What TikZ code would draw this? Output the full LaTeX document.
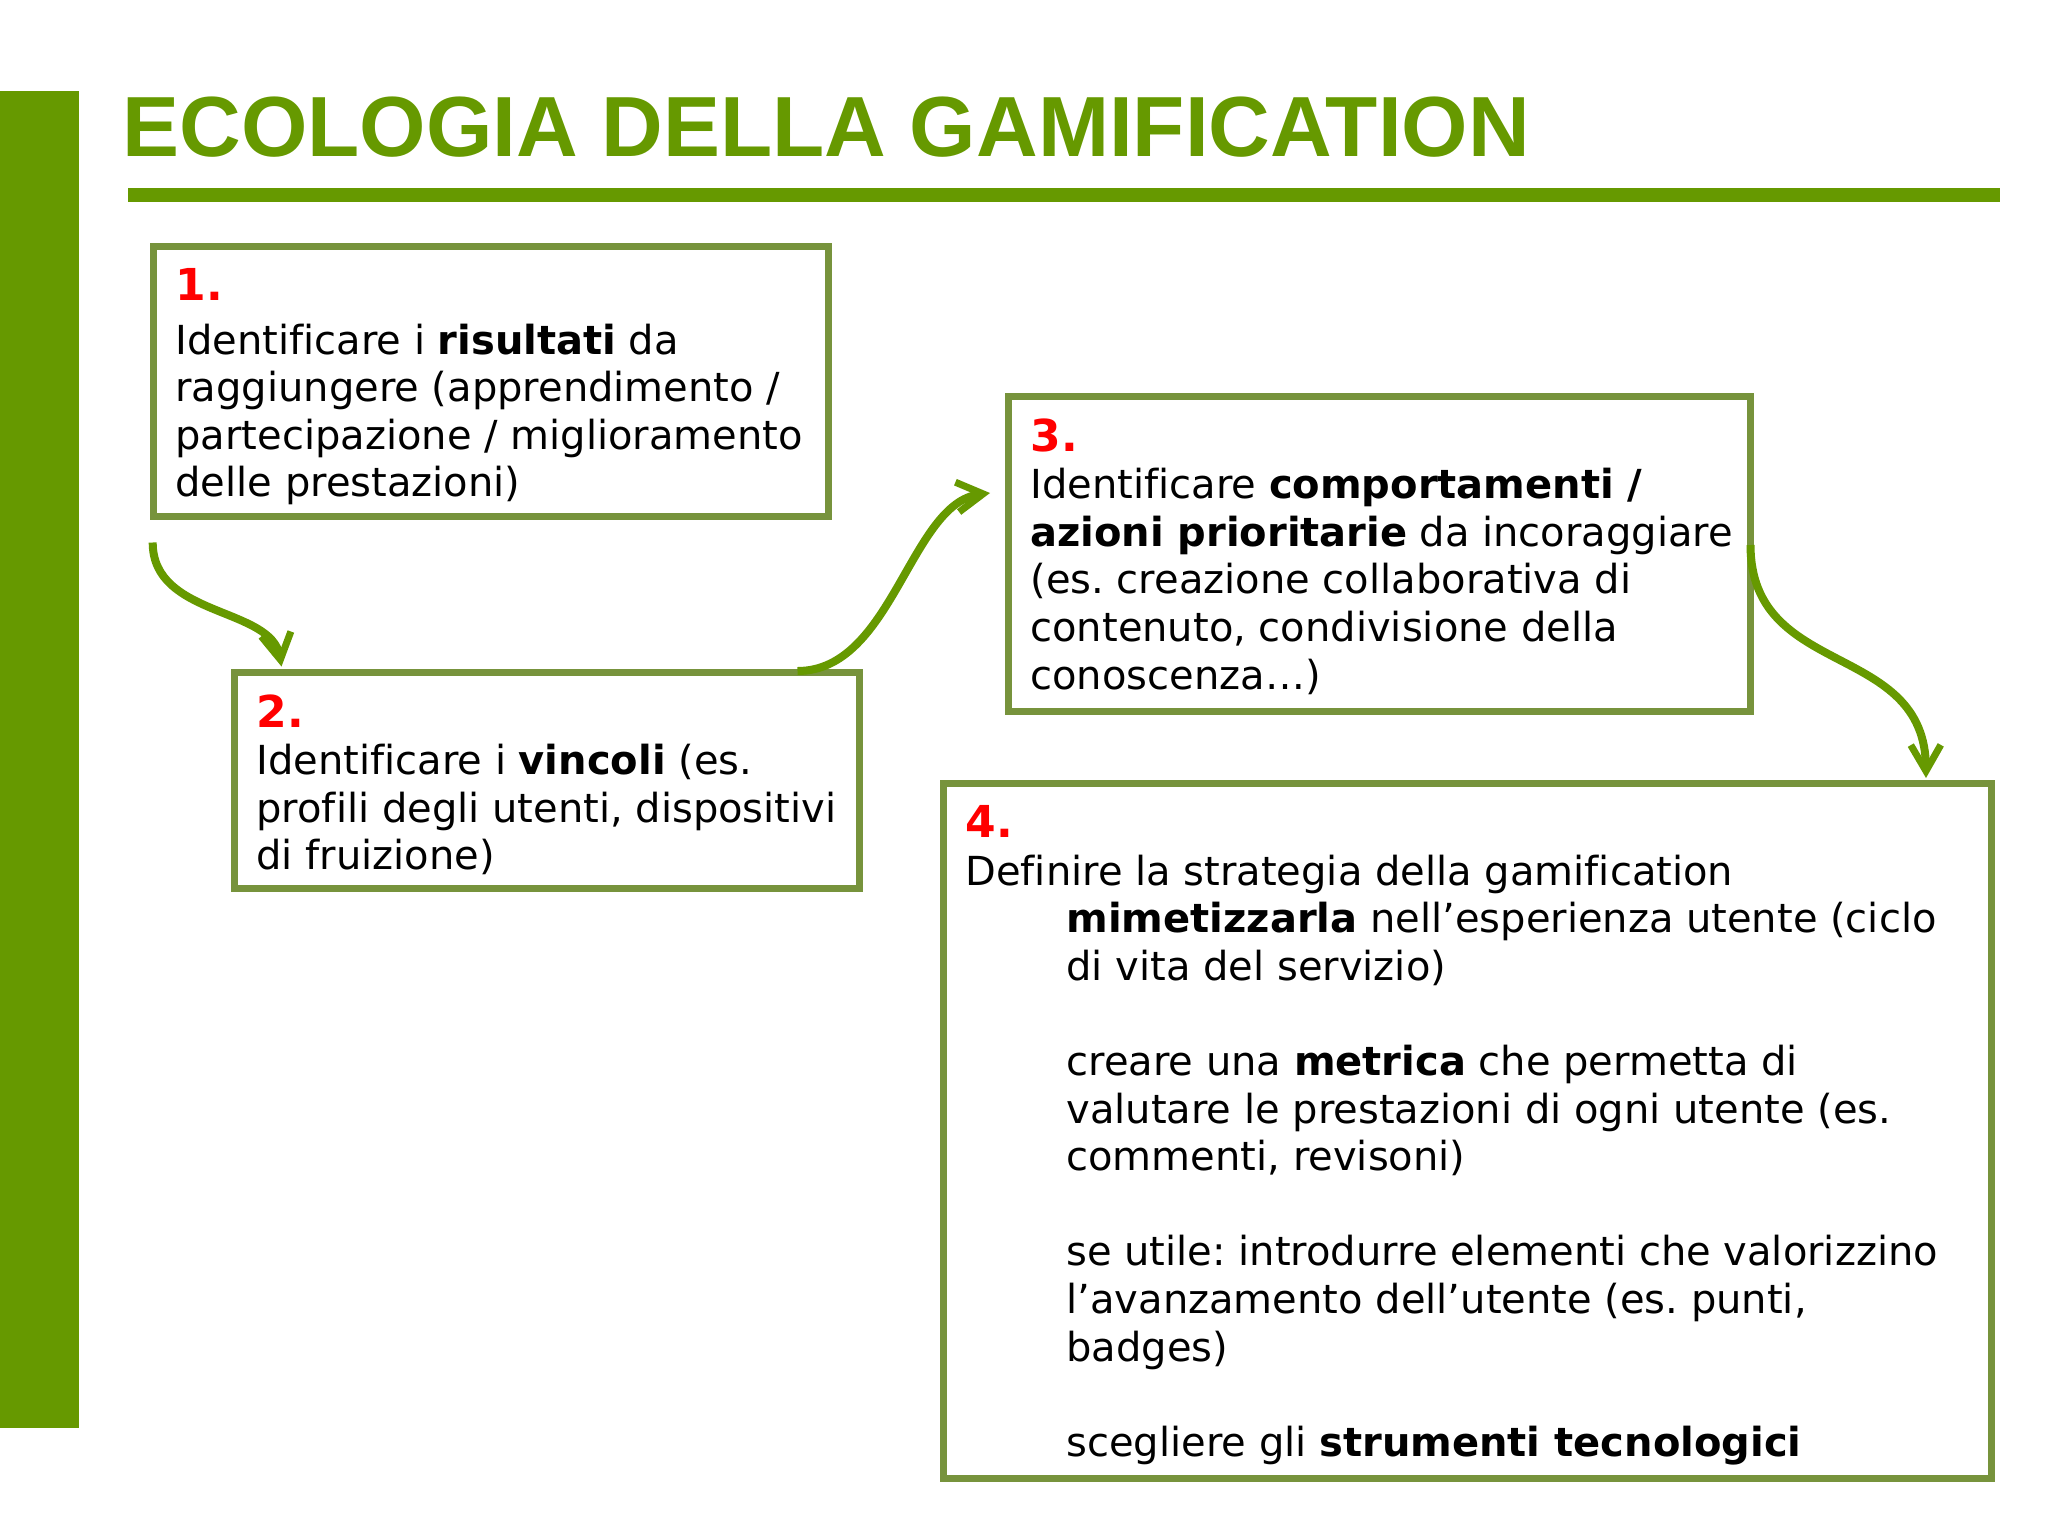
\documentclass[tikz,border=0pt]{standalone}
\usepackage{fontspec}
\setmainfont{DejaVu Sans}[Ligatures=NoCommon]
\newfontfamily\titlefont{Liberation Sans}
\usepackage{xcolor}
\usepackage{tikz}
\usetikzlibrary{arrows.meta, calc}
\definecolor{ecogreen}{HTML}{669900}
\definecolor{boxgreen}{HTML}{77933C}
\definecolor{numred}{HTML}{FF0000}
\frenchspacing
\tikzstyle{stepbox} = [draw=boxgreen,line width=3.5pt,fill=white,anchor=north west,inner sep=11pt,outer sep=0pt]
\tikzstyle{flow} = [draw=ecogreen,line width=4pt,-{Straight Barb[length=13pt,width=15pt,line width=3.5pt]}]
\newcommand{\boxnum}[1]{{\color{numred}\fontsize{22}{24}\selectfont\bfseries #1}\par}
\newcommand{\boxtext}[3]{\parbox[c][#2][t]{#1}{\raggedright\rightskip=0pt plus 1fil minus 40pt\fontsize{20}{23.8}\selectfont #3}}

\begin{document}
\begin{tikzpicture}[x=0.5pt,y=-0.5pt]
                \useasboundingbox (0,0) rectangle (2048,1536);
                \fill[ecogreen] (0,91) rectangle (79,1428);
                \fill[ecogreen] (128,188) rectangle (2000,202);
                \node[anchor=base west,inner sep=0pt,text=ecogreen,font=\titlefont\bfseries\fontsize{42.7}{50}\selectfont] (title) at (122,156) {ECOLOGIA DELLA GAMIFICATION};
                \node[stepbox] (box1) at (153.5,246.5) {\boxtext{315.5pt}{113pt}{\boxnum{1.}\vspace{3pt}
                    Identificare i \textbf{risultati} da\\
                    raggiungere (apprendimento /\\
                    partecipazione / miglioramento\\
                    delle prestazioni)}};
                \node[stepbox] (box2) at (234.5,672.5) {\boxtext{290.5pt}{86pt}{\boxnum{2.}
                    Identificare i \textbf{vincoli} (es.\\
                    profili degli utenti, dispositivi\\
                    di fruizione)}};
                \node[stepbox] (box3) at (1008.5,396.5) {\boxtext{349pt}{135.5pt}{\boxnum{3.}
                    Identificare \textbf{comportamenti /}\\
                    \textbf{azioni prioritarie} da incoraggiare\\
                    (es. creazione collaborativa di\\
                    contenuto, condivisione della\\
                    conoscenza…)}};
                \node[stepbox] (box4) at (943.5,783.5) {\boxtext{502pt}{325.5pt}{\boxnum{4.}
                    Definire la strategia della gamification\par
                    \leftskip=50.5pt
                    \textbf{mimetizzarla} nell’esperienza utente (ciclo\\
                    di vita del servizio)\par
                    \vspace{23.8pt}
                    creare una \textbf{metrica} che permetta di\\
                    valutare le prestazioni di ogni utente (es.\\
                    commenti, revisoni)\par
                    \vspace{23.8pt}
                    se utile: introdurre elementi che valorizzino\\
                    l’avanzamento dell’utente (es. punti,\\
                    badges)\par
                    \vspace{23.8pt}
                    scegliere gli \textbf{strumenti tecnologici}}};
                \draw[flow] ($(box1.south west)+(-0.8,26)$) .. controls +(0,75) and +(-10,-60) .. ($(box2.north west)+(47,-6)$);
                \draw[flow] ($(box2.north east)+(-62,-1.5)$) .. controls +(95,0) and +(-80,10) .. ($(box3.west)+(-18.5,-61)$);
                \draw[flow] ($(box3.east)+(0,-9)$) .. controls +(0,135) and +(-1,-138) .. ($(box4.north east)+(-65.5,-5.5)$);
\end{tikzpicture}
\end{document}
